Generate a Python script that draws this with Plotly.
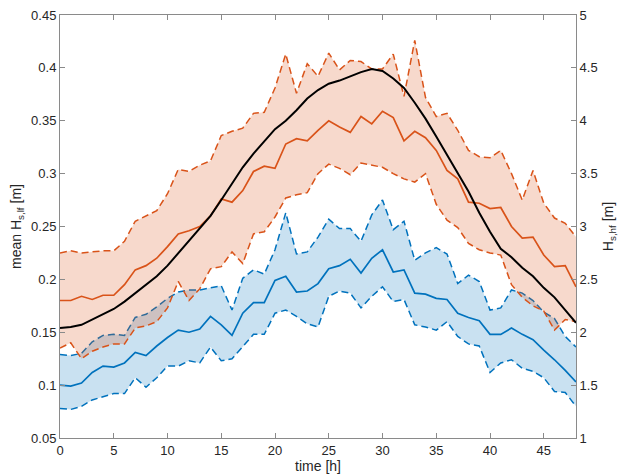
import plotly.graph_objects as go

# time axis [h]
hours = list(range(49))

# low-frequency wave height (left axis) [m]
lf_mean = [0.100, 0.099, 0.102, 0.112, 0.118, 0.117, 0.121, 0.131, 0.128, 0.137,
           0.145, 0.152, 0.150, 0.153, 0.165, 0.157, 0.147, 0.168, 0.178, 0.178,
           0.199, 0.203, 0.188, 0.189, 0.196, 0.210, 0.213, 0.219, 0.206, 0.220,
           0.228, 0.207, 0.209, 0.187, 0.186, 0.182, 0.181, 0.168, 0.164, 0.161,
           0.148, 0.148, 0.154, 0.148, 0.143, 0.133, 0.124, 0.114, 0.103]
lf_low = [0.078, 0.077, 0.080, 0.086, 0.089, 0.092, 0.092, 0.107, 0.098, 0.107,
          0.118, 0.118, 0.123, 0.121, 0.136, 0.123, 0.125, 0.136, 0.148, 0.148,
          0.168, 0.171, 0.165, 0.158, 0.155, 0.184, 0.189, 0.187, 0.173, 0.184,
          0.193, 0.179, 0.181, 0.157, 0.155, 0.152, 0.160, 0.146, 0.139, 0.137,
          0.112, 0.121, 0.124, 0.116, 0.113, 0.107, 0.094, 0.093, 0.080]
lf_high = [0.129, 0.128, 0.130, 0.141, 0.147, 0.148, 0.147, 0.164, 0.167, 0.174,
           0.182, 0.188, 0.190, 0.190, 0.192, 0.194, 0.171, 0.201, 0.209, 0.205,
           0.228, 0.263, 0.224, 0.226, 0.240, 0.257, 0.248, 0.248, 0.236, 0.261,
           0.275, 0.247, 0.255, 0.218, 0.225, 0.230, 0.224, 0.196, 0.204, 0.198,
           0.171, 0.173, 0.190, 0.187, 0.180, 0.169, 0.163, 0.146, 0.136]

# high-frequency wave height (right axis) [m]
hf_mean = [2.30, 2.30, 2.34, 2.31, 2.35, 2.35, 2.45, 2.59, 2.63, 2.70,
           2.81, 2.93, 2.96, 3.00, 3.10, 3.26, 3.23, 3.34, 3.52, 3.57,
           3.55, 3.78, 3.83, 3.81, 3.91, 4.00, 3.94, 3.89, 4.04, 3.97,
           4.09, 4.03, 3.81, 3.90, 3.84, 3.72, 3.53, 3.45, 3.23, 3.22,
           3.17, 3.18, 3.00, 2.89, 2.90, 2.73, 2.62, 2.63, 2.43]
hf_low = [1.85, 1.90, 1.75, 1.82, 1.86, 1.89, 1.89, 2.04, 2.06, 2.10,
          2.23, 2.48, 2.30, 2.41, 2.60, 2.62, 2.76, 2.65, 2.93, 2.95,
          3.09, 3.27, 3.30, 3.32, 3.50, 3.59, 3.55, 3.49, 3.60, 3.58,
          3.56, 3.50, 3.45, 3.42, 3.50, 3.21, 3.06, 2.99, 2.84, 2.78,
          2.75, 2.73, 2.45, 2.33, 2.25, 2.20, 2.02, 2.12, 2.10]
hf_high = [2.75, 2.77, 2.75, 2.76, 2.77, 2.77, 2.86, 3.05, 3.10, 3.15,
           3.31, 3.54, 3.52, 3.58, 3.62, 3.86, 3.90, 3.93, 4.07, 4.08,
           4.31, 4.63, 4.26, 4.54, 4.42, 4.64, 4.48, 4.57, 4.56, 4.49,
           4.49, 4.63, 4.23, 4.76, 4.22, 4.04, 4.07, 3.91, 3.72, 3.66,
           3.65, 3.72, 3.50, 3.25, 3.53, 3.22, 3.08, 3.03, 2.90]
hf_total = [2.04, 2.05, 2.07, 2.12, 2.17, 2.22, 2.29, 2.37, 2.45, 2.53,
            2.63, 2.75, 2.86, 2.98, 3.10, 3.25, 3.41, 3.56, 3.69, 3.81,
            3.92, 4.00, 4.10, 4.21, 4.29, 4.35, 4.38, 4.42, 4.46, 4.49,
            4.47, 4.40, 4.31, 4.17, 4.02, 3.85, 3.68, 3.50, 3.33, 3.13,
            2.95, 2.79, 2.71, 2.61, 2.53, 2.42, 2.33, 2.21, 2.09]

BLUE = "#0072BD"
ORANGE = "#D95319"
BLUE_FILL = "rgba(0,114,189,0.21)"
ORANGE_FILL = "rgba(217,83,25,0.22)"
DASH = "7px,4px"
FONT = "Liberation Sans, Arial, Helvetica, sans-serif"
TXT = "#262626"
AX = "#8a8a8a"

fig = go.Figure()


def band(lo, hi, fill, yaxis):
    xs = hours + hours[::-1]
    ys = hi + lo[::-1]
    fig.add_trace(go.Scatter(x=xs, y=ys, fill="toself", fillcolor=fill,
                             line=dict(width=0), mode="lines", yaxis=yaxis,
                             hoverinfo="skip", showlegend=False))


band(hf_low, hf_high, ORANGE_FILL, "y2")
band(lf_low, lf_high, BLUE_FILL, "y")

for arr in (lf_low, lf_high):
    fig.add_trace(go.Scatter(x=hours, y=arr, mode="lines", yaxis="y",
                             line=dict(color=BLUE, width=1.5, dash=DASH),
                             showlegend=False))
for arr in (hf_low, hf_high):
    fig.add_trace(go.Scatter(x=hours, y=arr, mode="lines", yaxis="y2",
                             line=dict(color=ORANGE, width=1.5, dash=DASH),
                             showlegend=False))

fig.add_trace(go.Scatter(x=hours, y=lf_mean, mode="lines", yaxis="y",
                         line=dict(color=BLUE, width=1.7), showlegend=False))
fig.add_trace(go.Scatter(x=hours, y=hf_mean, mode="lines", yaxis="y2",
                         line=dict(color=ORANGE, width=1.7), showlegend=False))
fig.add_trace(go.Scatter(x=hours, y=hf_total, mode="lines", yaxis="y2",
                         line=dict(color="black", width=2), showlegend=False))

axis_common = dict(ticks="inside", ticklen=5, tickcolor=AX, showline=True,
                   linecolor=AX, linewidth=1, showgrid=False, zeroline=False,
                   automargin=False,
                   tickfont=dict(family=FONT, size=13, color=TXT))
title_font = dict(family=FONT, size=14, color=TXT)

fig.update_layout(
    width=623, height=476,
    margin=dict(l=60, r=47, t=15, b=38),
    paper_bgcolor="white", plot_bgcolor="white",
    font=dict(family=FONT, size=13, color=TXT),
    xaxis=dict(range=[0, 48], tick0=0, dtick=5, mirror="ticks",
               title=dict(text="time [h]", standoff=4, font=title_font),
               **axis_common),
    yaxis=dict(range=[0.05, 0.45], tick0=0.05, dtick=0.05,
               title=dict(text="mean H<sub>s,lf</sub> [m]", standoff=6,
                          font=title_font),
               **axis_common),
    yaxis2=dict(range=[1, 5], tick0=1, dtick=0.5, overlaying="y", side="right",
                title=dict(text="H<sub>s,hf</sub> [m]", standoff=6,
                           font=title_font),
                **axis_common),
)

fig.write_html("out.html")
